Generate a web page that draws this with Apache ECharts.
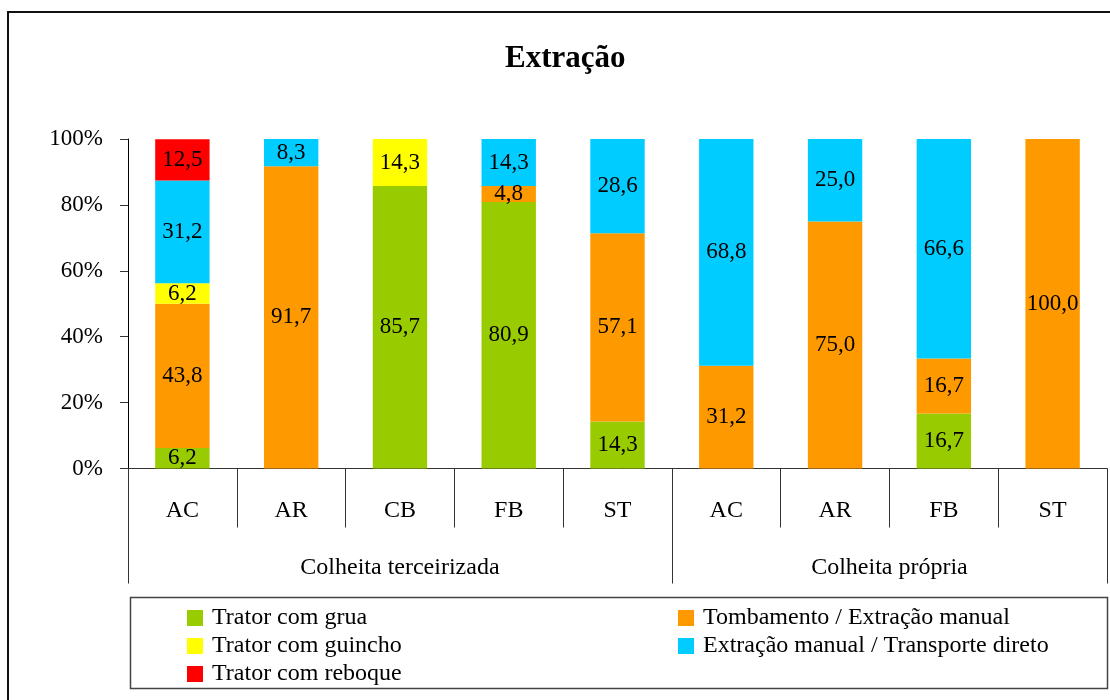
<!DOCTYPE html>
<html>
<head>
<meta charset="utf-8">
<title>Extração</title>
<script src="https://cdn.jsdelivr.net/npm/echarts@6/dist/echarts.min.js"></script>
<style>
  html, body { margin: 0; padding: 0; background: #fff; }
  #chart { width: 1110px; height: 700px; }
</style>
</head>
<body>
<div id="chart"></div>
<script>
// Categories (inner level) and their groups (outer level)
const categories = ['AC', 'AR', 'CB', 'FB', 'ST', 'AC', 'AR', 'FB', 'ST'];
const groupNames = ['Colheita terceirizada', 'Colheita própria'];
const groupSizes = [5, 4];

// Share of each extraction method (%), stacked bottom to top
const tratorGrua      = [6.2, null, 85.7, 80.9, 14.3, null, null, 16.7, null];
const tombamento      = [43.8, 91.7, null, 4.8, 57.1, 31.2, 75.0, 16.7, 100.0];
const tratorGuincho   = [6.2, null, 14.3, null, null, null, null, null, null];
const extracaoManual  = [31.2, 8.3, null, 14.3, 28.6, 68.8, 25.0, 66.6, null];
const tratorReboque   = [12.5, null, null, null, null, null, null, null, null];

const seriesNames = [
  'Trator com grua',
  'Tombamento / Extração manual',
  'Trator com guincho',
  'Extração manual / Transporte direto',
  'Trator com reboque'
];
const seriesData = [tratorGrua, tombamento, tratorGuincho, extracaoManual, tratorReboque];
const seriesColors = ['#99CC00', '#FF9900', '#FFFF00', '#00CCFF', '#FF0000'];

// Y axis ticks
const yMin = 0, yMax = 100, yStep = 20;

const FONT = '"Liberation Serif", "Times New Roman", serif';

// Group boundaries and centers on a 0..N scale matching the category slots
const groupEdges = [0];
groupSizes.forEach(s => groupEdges.push(groupEdges[groupEdges.length - 1] + s));
const groupCenters = groupSizes.map((s, i) => groupEdges[i] + s / 2);

const fmt = v => v.toFixed(1).replace('.', ',');

const chart = echarts.init(document.getElementById('chart'), null, { renderer: 'canvas' });

const option = {
  animation: false,
  backgroundColor: '#ffffff',
  textStyle: { fontFamily: FONT, color: '#000' },
  title: {
    text: 'Extração',
    left: 505,
    top: 43,
    padding: 0,
    textStyle: { fontFamily: FONT, fontSize: 31, fontWeight: 'bold', color: '#000' }
  },
  graphic: [
    {
      type: 'rect', silent: true,
      shape: { x: 8, y: 12, width: 1120, height: 720 },
      style: { fill: 'none', stroke: '#111', lineWidth: 2 }
    },
    {
      type: 'rect', silent: true,
      shape: { x: 130.5, y: 597.5, width: 977, height: 91 },
      style: { fill: 'none', stroke: '#444', lineWidth: 1.5 }
    }
  ],
  legend: [
    {
      orient: 'vertical',
      left: 187, top: 606,
      padding: 0,
      itemWidth: 16, itemHeight: 16, itemGap: 4,
      icon: 'rect',
      data: [seriesNames[0], seriesNames[2], seriesNames[4]],
      textStyle: { fontFamily: FONT, fontSize: 24, color: '#000', lineHeight: 24, padding: [0, 0, 0, 4] }
    },
    {
      orient: 'vertical',
      left: 678, top: 606,
      padding: 0,
      itemWidth: 16, itemHeight: 16, itemGap: 4,
      icon: 'rect',
      data: [seriesNames[1], seriesNames[3]],
      textStyle: { fontFamily: FONT, fontSize: 24, color: '#000', lineHeight: 24, padding: [0, 0, 0, 4] }
    }
  ],
  grid: { left: 128, right: 3, top: 139, bottom: 231.5, containLabel: false },
  xAxis: [
    {
      type: 'category',
      data: categories,
      boundaryGap: true,
      axisLine: { show: true, lineStyle: { color: '#333', width: 1 } },
      axisTick: { show: true, interval: 0, length: 59, lineStyle: { color: '#333', width: 1 } },
      axisLabel: { interval: 0, margin: 30, fontFamily: FONT, fontSize: 24, color: '#000' },
      splitLine: { show: false }
    },
    {
      type: 'value',
      position: 'bottom',
      min: 0,
      max: categories.length,
      axisLine: { show: false },
      axisTick: { show: true, customValues: groupEdges, length: 115, lineStyle: { color: '#333', width: 1 } },
      axisLabel: {
        customValues: groupCenters,
        margin: 87,
        fontFamily: FONT, fontSize: 24, color: '#000',
        formatter: v => {
          const i = groupCenters.indexOf(v);
          return i >= 0 ? groupNames[i] : '';
        }
      },
      splitLine: { show: false }
    }
  ],
  yAxis: {
    type: 'value',
    min: yMin, max: yMax, interval: yStep,
    axisLine: { show: true, lineStyle: { color: '#000', width: 1 } },
    axisTick: { show: true, length: 8, lineStyle: { color: '#333', width: 1 } },
    axisLabel: { margin: 25, fontFamily: FONT, fontSize: 23, color: '#000', formatter: '{value}%' },
    splitLine: { show: false }
  },
  series: seriesNames.map((name, i) => ({
    name,
    type: 'bar',
    stack: 'total',
    xAxisIndex: 0,
    barCategoryGap: '50%',
    itemStyle: { color: seriesColors[i] },
    label: {
      show: true,
      position: 'inside',
      fontFamily: FONT, fontSize: 23, color: '#000',
      formatter: p => (p.value == null ? '' : fmt(p.value))
    },
    data: seriesData[i]
  }))
};

chart.setOption(option);
</script>
</body>
</html>
